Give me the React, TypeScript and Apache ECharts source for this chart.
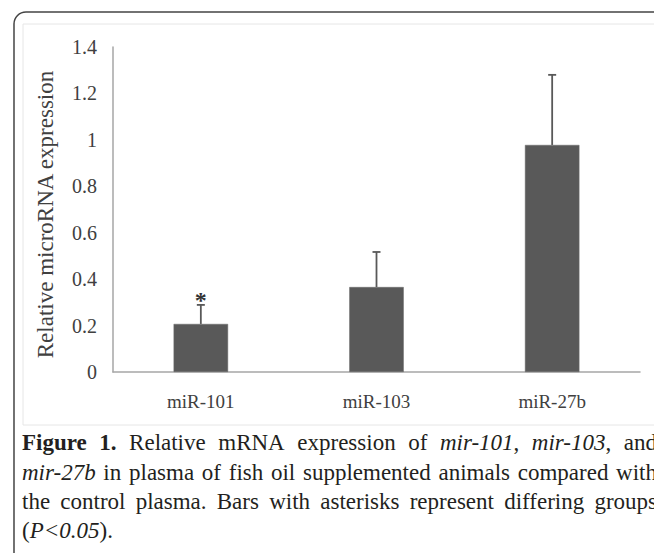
import React, { useEffect, useRef } from "react";
import * as echarts from "echarts";

const categories = ["miR-101", "miR-103", "miR-27b"];
const means = [0.207, 0.366, 0.978];
const errors = [0.082, 0.151, 0.302];
const significant = [true, false, false];
const yTicks = { min: 0, max: 1.4, interval: 0.2 };
const yTitle = "Relative microRNA expression";
// caption words; {b|..} bold, {i|..} italic
const captionLine1 = ["{b|Figure}", "{b|1.}", "Relative", "mRNA", "expression", "of", "{i|mir-101},", "{i|mir-103},", "and"];
const captionLine2 = ["{i|mir-27b}", "in", "plasma", "of", "fish", "oil", "supplemented", "animals", "compared", "with"];
const captionLine3 = ["the", "control", "plasma.", "Bars", "with", "asterisks", "represent", "differing", "groups"];
const captionLine4 = ["({i|P<0.05})."];
const captionLines = [captionLine1, captionLine2, captionLine3, captionLine4];
const captionJustified = [true, true, true, false];

const SERIF = "'Liberation Serif', 'Times New Roman', serif";
const CAP_SIZE = 23;

function parseWord(w: string): { t: string; s: string }[] {
  const out: { t: string; s: string }[] = [];
  const re = /\{(\w)\|([^}]*)\}|([^{]+)/g;
  let m: RegExpExecArray | null;
  while ((m = re.exec(w))) {
    if (m[1]) out.push({ t: m[2], s: m[1] });
    else out.push({ t: m[3], s: "" });
  }
  return out;
}

function fontFor(s: string) {
  const style = s === "i" ? "italic" : "normal";
  const weight = s === "b" ? "bold" : "normal";
  return `${style} ${weight} ${CAP_SIZE}px ${SERIF}`;
}

function buildCaption(): any[] {
  const ctx = document.createElement("canvas").getContext("2d")!;
  const measure = (t: string, s: string) => {
    ctx.font = fontFor(s);
    return ctx.measureText(t).width;
  };
  const left = 22;
  const right = 657;
  const ys = [442, 472, 501, 530];
  const els: any[] = [];
  captionLines.forEach((words, li) => {
    const parsed = words.map(parseWord);
    const widths = parsed.map((segs) => segs.reduce((a, g) => a + measure(g.t, g.s), 0));
    const total = widths.reduce((a, b) => a + b, 0);
    const space = measure(" ", "");
    const gap = captionJustified[li] && words.length > 1 ? (right - left - total) / (words.length - 1) : space;
    let x = left;
    parsed.forEach((segs, wi) => {
      segs.forEach((g) => {
        els.push({
          type: "text",
          x,
          y: ys[li],
          style: {
            text: g.t,
            fontFamily: SERIF,
            fontSize: CAP_SIZE,
            fontWeight: g.s === "b" ? "bold" : "normal",
            fontStyle: g.s === "i" ? "italic" : "normal",
            fill: "#231f20",
            verticalAlign: "middle",
          },
        });
        x += measure(g.t, g.s);
      });
      x += gap;
    });
  });
  return els;
}

export default function App() {
  const ref = useRef<HTMLDivElement>(null);
  useEffect(() => {
    if (!ref.current) return;
    const chart = echarts.init(ref.current, null, { renderer: "svg" });
    const errData = categories.map((_, i) => [i, means[i], errors[i], significant[i] ? 1 : 0]);
    chart.setOption({
      animation: false,
      backgroundColor: "#ffffff",
      grid: { left: 113, right: 14, top: 47, bottom: 181, containLabel: false },
      xAxis: {
        type: "category",
        data: categories,
        axisTick: { show: false },
        axisLine: { lineStyle: { color: "#a6a6a6", width: 1.5 } },
        axisLabel: { fontFamily: SERIF, fontSize: 19, color: "#404040", margin: 20 },
      },
      yAxis: {
        type: "value",
        min: yTicks.min,
        max: yTicks.max,
        interval: yTicks.interval,
        splitLine: { show: false },
        axisTick: { show: false },
        axisLine: { show: true, lineStyle: { color: "#a6a6a6", width: 1.5 } },
        axisLabel: { fontFamily: SERIF, fontSize: 20, color: "#404040", margin: 16 },
        name: yTitle,
        nameLocation: "middle",
        nameGap: 56,
        nameTextStyle: { fontFamily: SERIF, fontSize: 23, color: "#404040", padding: [0, 10, 0, 0] },
      },
      series: [
        {
          type: "bar",
          data: means,
          barWidth: "31%",
          itemStyle: { color: "#595959", borderColor: "#6a6a6a", borderWidth: 0.5 },
        },
        {
          type: "custom",
          data: errData,
          z: 5,
          renderItem: (params: any, api: any) => {
            const i = api.value(0);
            const m = api.value(1);
            const e = api.value(2);
            const sig = api.value(3);
            const base = api.coord([i, m]);
            const top = api.coord([i, m + e]);
            const half = 4;
            const children: any[] = [
              { type: "line", shape: { x1: base[0], y1: base[1], x2: top[0], y2: top[1] }, style: { stroke: "#595959", lineWidth: 1.8 } },
              { type: "line", shape: { x1: top[0] - half, y1: top[1], x2: top[0] + half, y2: top[1] }, style: { stroke: "#595959", lineWidth: 1.8 } },
            ];
            if (sig) {
              children.push({
                type: "text",
                x: top[0],
                y: top[1] - 5,
                style: { text: "*", fontFamily: SERIF, fontSize: 24, fontWeight: "bold", fill: "#333333", align: "center", verticalAlign: "middle" },
              });
            }
            return { type: "group", children };
          },
        },
      ],
      graphic: [
        {
          type: "rect",
          shape: { x: 14, y: 12, width: 700, height: 600, r: 12 },
          style: { fill: "none", stroke: "#444444", lineWidth: 1.5 },
          silent: true,
          z: -10,
        },
        {
          type: "rect",
          shape: { x: 23, y: 24, width: 700, height: 401 },
          style: { fill: "none", stroke: "#e6e6e6", lineWidth: 1 },
          silent: true,
          z: -10,
        },
        ...buildCaption(),
      ],
    });
    return () => chart.dispose();
  }, []);
  return <div ref={ref} style={{ position: "fixed", left: 0, top: 0, width: 654, height: 553 }} />;
}
